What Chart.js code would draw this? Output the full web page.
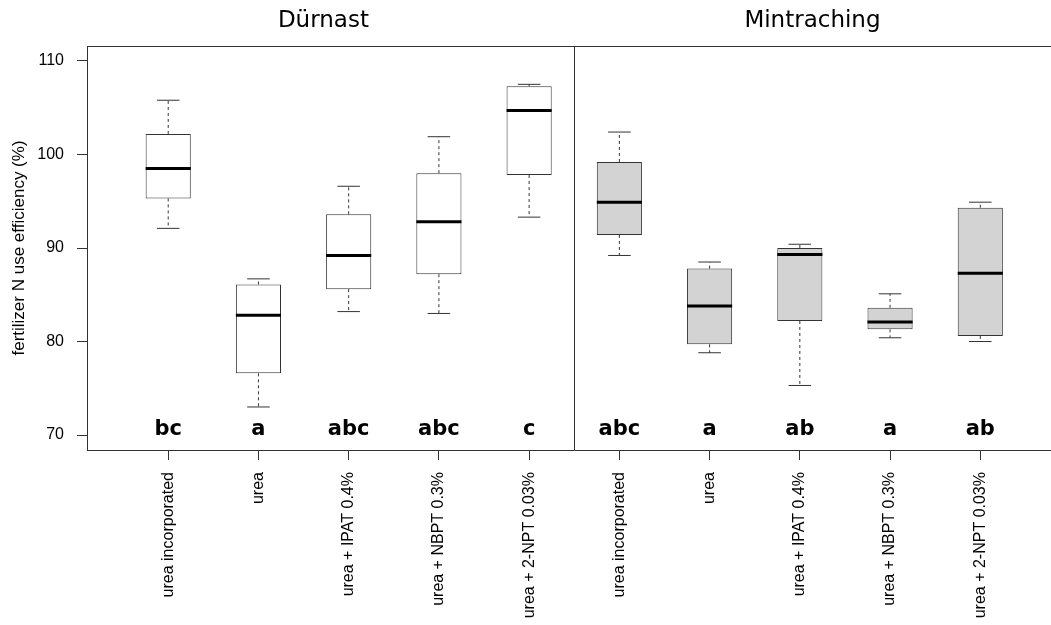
<!DOCTYPE html>
<html>
<head>
<meta charset="utf-8">
<script src="https://cdn.jsdelivr.net/npm/chart.js@4"></script>
<style>
  html, body { margin: 0; padding: 0; background: #fff; overflow: hidden; }
</style>
</head>
<body>
<canvas id="nueChart" width="1080" height="625"></canvas>
<script>
// treatments, Dürnast first then Mintraching
const treatments = ['urea incorporated', 'urea', 'urea + IPAT 0.4%', 'urea + NBPT 0.3%', 'urea + 2-NPT 0.03%',
  'urea incorporated', 'urea', 'urea + IPAT 0.4%', 'urea + NBPT 0.3%', 'urea + 2-NPT 0.03%'];
const sites = ['Dürnast', 'Mintraching'];
const sitePos = [2.72, 8.14];

// box statistics (%)
const whiskerLow  = [92.1, 73.0, 83.2, 83.0, 93.3, 89.2, 78.8, 75.3, 80.4, 80.0];
const q1          = [95.3, 76.6, 85.6, 87.2, 97.8, 91.4, 79.7, 82.2, 81.3, 80.6];
const median      = [98.5, 82.8, 89.2, 92.8, 104.7, 94.9, 83.8, 89.3, 82.1, 87.3];
const q3          = [102.2, 86.1, 93.6, 98.0, 107.3, 99.2, 87.8, 90.0, 83.6, 94.3];
const whiskerHigh = [105.8, 86.7, 96.6, 101.9, 107.5, 102.4, 88.5, 90.4, 85.1, 94.9];
const letters = ['bc', 'a', 'abc', 'abc', 'c', 'abc', 'a', 'ab', 'a', 'ab'];
const yTicks = [70, 80, 90, 100, 110];

const positions = treatments.map((t, i) => i + 1);
const boxColors = positions.map(p => p <= 5 ? '#ffffff' : '#d3d3d3');

// whiskers, medians, letters, panel titles
const boxplotExtras = {
  id: 'boxplotExtras',
  afterDatasetsDraw(chart) {
    const {ctx, chartArea, scales: {x, y}} = chart;
    const bars = chart.getDatasetMeta(0).data;
    ctx.save();
    positions.forEach((p, i) => {
      const cx = x.getPixelForValue(p);
      const capL = x.getPixelForValue(p - 0.125);
      const capR = x.getPixelForValue(p + 0.125);
      const half = bars[i].width / 2;
      // dashed whiskers
      ctx.strokeStyle = '#333';
      ctx.lineWidth = 1;
      ctx.setLineDash([3, 3]);
      ctx.beginPath();
      ctx.moveTo(cx, y.getPixelForValue(q3[i]));
      ctx.lineTo(cx, y.getPixelForValue(whiskerHigh[i]));
      ctx.moveTo(cx, y.getPixelForValue(q1[i]));
      ctx.lineTo(cx, y.getPixelForValue(whiskerLow[i]));
      ctx.stroke();
      // caps
      ctx.setLineDash([]);
      ctx.beginPath();
      ctx.moveTo(capL, y.getPixelForValue(whiskerHigh[i]));
      ctx.lineTo(capR, y.getPixelForValue(whiskerHigh[i]));
      ctx.moveTo(capL, y.getPixelForValue(whiskerLow[i]));
      ctx.lineTo(capR, y.getPixelForValue(whiskerLow[i]));
      ctx.stroke();
      // median
      ctx.strokeStyle = '#000';
      ctx.lineWidth = 3;
      ctx.beginPath();
      ctx.moveTo(cx - half, y.getPixelForValue(median[i]));
      ctx.lineTo(cx + half, y.getPixelForValue(median[i]));
      ctx.stroke();
      // significance letters
      ctx.fillStyle = '#000';
      ctx.font = 'bold 21px "DejaVu Sans"';
      ctx.textAlign = 'center';
      ctx.textBaseline = 'alphabetic';
      ctx.fillText(letters[i], cx, y.getPixelForValue(70));
    });
    // frame top, divider between sites
    ctx.strokeStyle = '#333';
    ctx.lineWidth = 1;
    ctx.beginPath();
    ctx.moveTo(chartArea.left, chartArea.top + 0.5);
    ctx.lineTo(chartArea.right + 30, chartArea.top + 0.5);
    const dx = Math.round(x.getPixelForValue(5.5)) + 0.5;
    ctx.moveTo(dx, chartArea.top);
    ctx.lineTo(dx, chartArea.bottom);
    ctx.stroke();
    // site titles
    ctx.fillStyle = '#000';
    ctx.font = '23px "DejaVu Sans"';
    ctx.textAlign = 'center';
    ctx.textBaseline = 'alphabetic';
    sites.forEach((s, k) => ctx.fillText(s, x.getPixelForValue(sitePos[k]), 27));
    ctx.restore();
  }
};

new Chart(document.getElementById('nueChart'), {
  type: 'bar',
  data: {
    datasets: [{
      data: positions.map((p, i) => ({ x: p, y: [q1[i], q3[i]] })),
      backgroundColor: boxColors,
      borderColor: '#333',
      borderWidth: 1,
      borderSkipped: false,
      categoryPercentage: 1,
      barPercentage: 0.5
    }]
  },
  options: {
    responsive: false,
    devicePixelRatio: 1,
    animation: false,
    layout: { padding: { left: 0, right: 18.5, top: 46, bottom: 0 } },
    plugins: { legend: { display: false }, tooltip: { enabled: false } },
    scales: {
      x: {
        type: 'linear',
        min: 0.1,
        max: 10.9,
        offset: false,
        afterBuildTicks: s => { s.ticks = positions.map(v => ({ value: v })); },
        afterFit: s => { s.height = 175; },
        grid: { drawOnChartArea: false, offset: false, tickLength: 10, color: '#333' },
        border: { display: true, color: '#333' },
        ticks: {
          autoSkip: false,
          minRotation: 90,
          maxRotation: 90,
          padding: 12,
          color: '#000',
          font: { family: '"Liberation Sans", Arial', size: 16 },
          callback: (v, i) => treatments[i]
        }
      },
      y: {
        min: 68.4,
        max: 111.6,
        afterBuildTicks: s => { s.ticks = yTicks.map(v => ({ value: v })); },
        afterFit: s => { s.width = 87; },
        grid: { drawOnChartArea: false, tickLength: 10, color: '#333' },
        border: { display: true, color: '#333' },
        ticks: {
          padding: 13,
          color: '#000',
          font: { family: '"Liberation Sans", Arial', size: 16 }
        },
        title: {
          display: true,
          text: 'fertilizer N use efficiency (%)',
          color: '#000',
          font: { family: '"Liberation Sans", Arial', size: 17 },
          padding: { top: 9, bottom: 0 }
        }
      }
    }
  },
  plugins: [boxplotExtras]
});
</script>
</body>
</html>
